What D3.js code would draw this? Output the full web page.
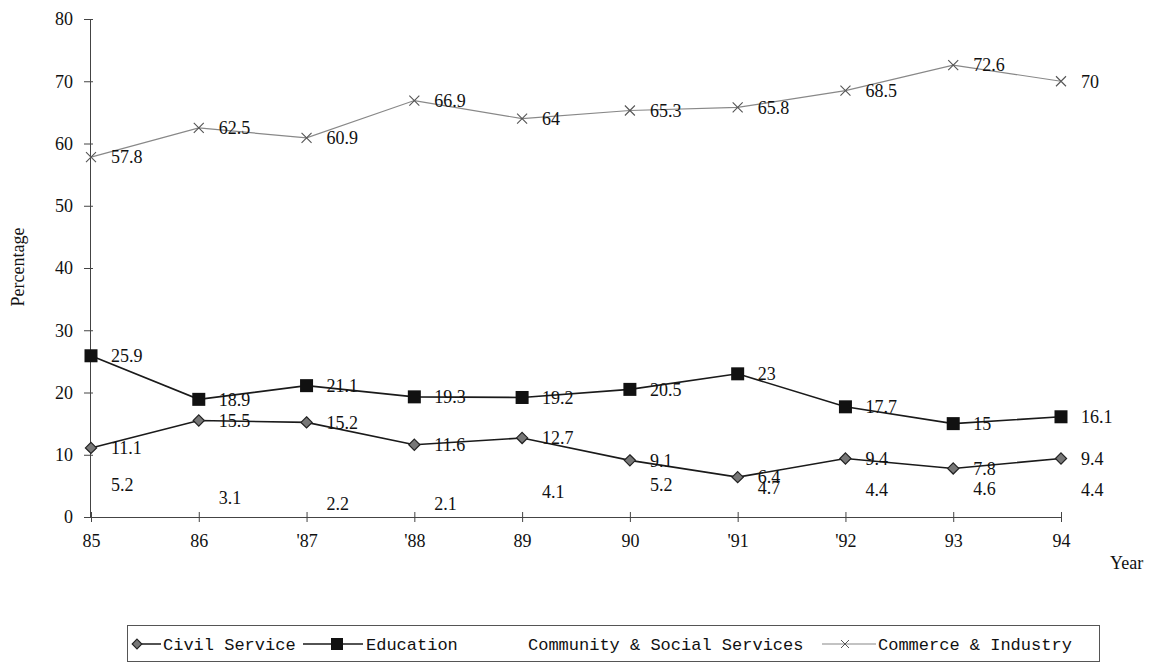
<!DOCTYPE html>
<html>
<head>
<meta charset="utf-8">
<script src="https://cdn.jsdelivr.net/npm/d3@7"></script>
<style>
  html, body { margin: 0; padding: 0; background: #fff; }
  svg { display: block; }
  .serif { font-family: "Liberation Serif", "Times New Roman", serif; }
  .mono { font-family: "Liberation Mono", "Courier New", monospace; }
</style>
</head>
<body>
<svg id="chart" width="1158" height="668"></svg>
<script>
const years = ["85", "86", "'87", "'88", "89", "90", "'91", "'92", "93", "94"];
const civilService = [11.1, 15.5, 15.2, 11.6, 12.7, 9.1, 6.4, 9.4, 7.8, 9.4];
const education = [25.9, 18.9, 21.1, 19.3, 19.2, 20.5, 23, 17.7, 15, 16.1];
const communitySocial = [5.2, 3.1, 2.2, 2.1, 4.1, 5.2, 4.7, 4.4, 4.6, 4.4];
const commerceIndustry = [57.8, 62.5, 60.9, 66.9, 64, 65.3, 65.8, 68.5, 72.6, 70];
const yTicks = [0, 10, 20, 30, 40, 50, 60, 70, 80];
const seriesNames = ["Civil Service", "Education", "Community & Social Services", "Commerce & Industry"];

const svg = d3.select("#chart");
const x = d3.scalePoint().domain(years).range([91, 1061]).padding(0);
const y = d3.scaleLinear().domain([0, 80]).range([517, 19]);
const axisColor = "#444";

// Y axis
const gy = svg.append("g").attr("transform", "translate(90,0)")
  .call(d3.axisLeft(y).tickValues(yTicks).tickSize(6).tickSizeOuter(0).tickPadding(11));
gy.select(".domain").attr("stroke", axisColor);
gy.selectAll(".tick line").attr("stroke", axisColor).attr("x1", 3);
gy.selectAll(".tick text").attr("class", "serif").attr("font-size", 18).attr("fill", "#111");

// X axis
const gx = svg.append("g").attr("transform", "translate(0,517)")
  .call(d3.axisBottom(x).tickSize(5).tickSizeOuter(0).tickPadding(12));
gx.select(".domain").attr("stroke", axisColor);
gx.selectAll(".tick line").attr("stroke", axisColor).attr("y1", -5);
gx.selectAll(".tick text").attr("class", "serif").attr("font-size", 18).attr("fill", "#111");

// Axis titles
svg.append("text").attr("class", "serif").attr("font-size", 18).attr("fill", "#111")
  .attr("transform", "translate(24,267) rotate(-90)").attr("text-anchor", "middle").text("Percentage");
svg.append("text").attr("class", "serif").attr("font-size", 18).attr("fill", "#111")
  .attr("x", 1110).attr("y", 569).text("Year");

const line = d3.line().x((d, i) => x(years[i])).y(d => y(d));

// Commerce & Industry
svg.append("path").datum(commerceIndustry).attr("d", line)
  .attr("fill", "none").attr("stroke", "#888").attr("stroke-width", 1.2);
svg.append("g").selectAll("path").data(commerceIndustry).join("path")
  .attr("transform", (d, i) => `translate(${x(years[i])},${y(d)})`)
  .attr("d", "M-5,-5L5,5M-5,5L5,-5").attr("stroke", "#555").attr("stroke-width", 1.1).attr("fill", "none");

// Education
svg.append("path").datum(education).attr("d", line)
  .attr("fill", "none").attr("stroke", "#1a1a1a").attr("stroke-width", 1.6);
svg.append("g").selectAll("rect").data(education).join("rect")
  .attr("x", (d, i) => x(years[i]) - 6.5).attr("y", d => y(d) - 6.5)
  .attr("width", 13).attr("height", 13).attr("fill", "#111");

// Civil Service
svg.append("path").datum(civilService).attr("d", line)
  .attr("fill", "none").attr("stroke", "#1a1a1a").attr("stroke-width", 1.6);
svg.append("g").selectAll("path").data(civilService).join("path")
  .attr("d", d3.symbol(d3.symbolDiamond2, 80))
  .attr("transform", (d, i) => `translate(${x(years[i])},${y(d)})`)
  .attr("fill", "#777").attr("stroke", "#222").attr("stroke-width", 1.2);

// Data labels
function labels(values) {
  svg.append("g").selectAll("text").data(values).join("text")
    .attr("class", "serif").attr("font-size", 18).attr("fill", "#111")
    .attr("x", (d, i) => x(years[i]) + 20).attr("y", d => y(d))
    .attr("dy", "0.35em").text(d => String(d));
}
labels(commerceIndustry);
labels(education);
labels(civilService);
labels(communitySocial);

// Legend
const lg = svg.append("g");
lg.append("rect").attr("x", 127.5).attr("y", 625.5).attr("width", 972).attr("height", 36)
  .attr("fill", "none").attr("stroke", "#555").attr("stroke-width", 1);
const ly = 644;
// Civil Service
lg.append("line").attr("x1", 134).attr("x2", 161).attr("y1", ly).attr("y2", ly).attr("stroke", "#1a1a1a").attr("stroke-width", 1.5);
lg.append("path").attr("d", d3.symbol(d3.symbolDiamond2, 60)).attr("transform", `translate(137,${ly})`)
  .attr("fill", "#777").attr("stroke", "#222").attr("stroke-width", 1.1);
// Education
lg.append("line").attr("x1", 303).attr("x2", 363).attr("y1", ly).attr("y2", ly).attr("stroke", "#1a1a1a").attr("stroke-width", 1.5);
lg.append("rect").attr("x", 331).attr("y", ly - 6).attr("width", 12).attr("height", 12).attr("fill", "#111");
// Commerce
lg.append("line").attr("x1", 822).attr("x2", 876).attr("y1", ly).attr("y2", ly).attr("stroke", "#888").attr("stroke-width", 1.2);
lg.append("path").attr("d", "M-4,-4L4,4M-4,4L4,-4").attr("transform", `translate(845,${ly})`)
  .attr("stroke", "#555").attr("stroke-width", 1).attr("fill", "none");
const legendX = [163, 366, 528, 878];
lg.selectAll("text.lbl").data(seriesNames).join("text")
  .attr("class", "mono lbl").attr("font-size", 17).attr("fill", "#111")
  .attr("x", (d, i) => legendX[i]).attr("y", ly).attr("dy", "0.35em").text(d => d);
</script>
</body>
</html>
